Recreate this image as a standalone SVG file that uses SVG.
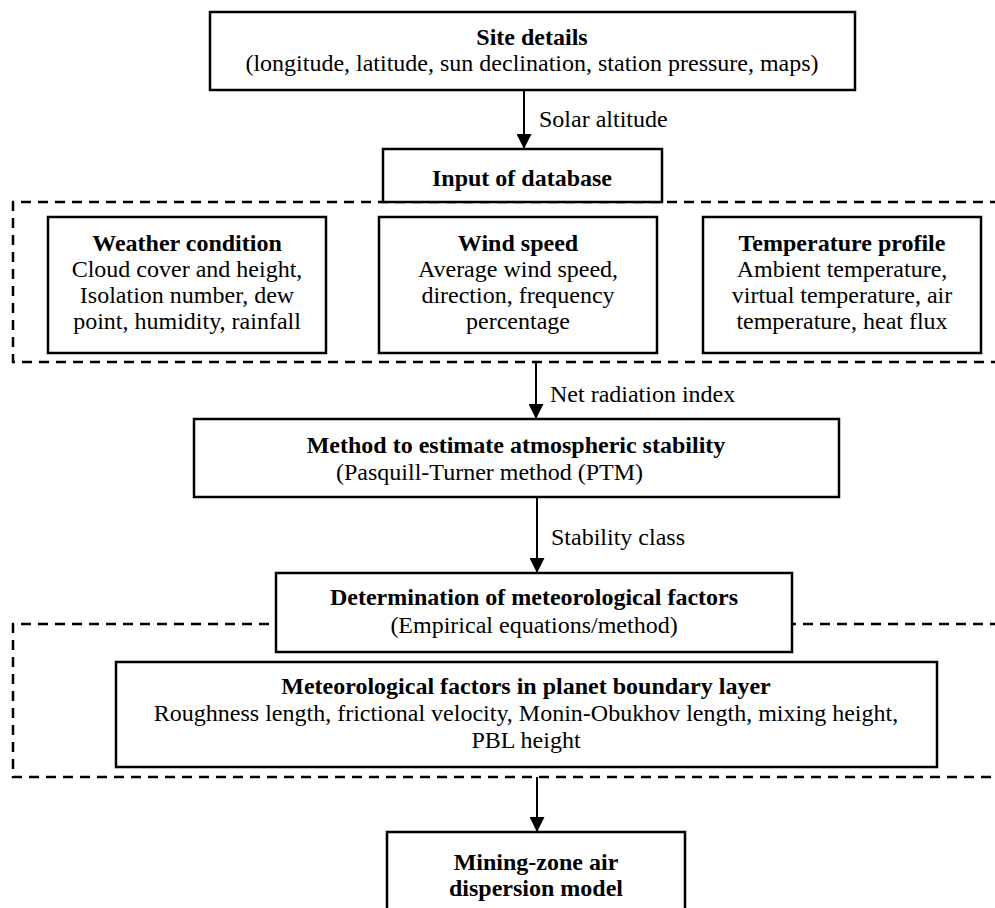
<svg xmlns="http://www.w3.org/2000/svg" width="995" height="908" viewBox="0 0 995 908">
  <style>
    .box { fill: #ffffff; stroke: #000000; stroke-width: 2.5; }
    .group { fill: none; stroke: #000000; stroke-width: 2.5; stroke-dasharray: 10 7; }
    .edge { fill: none; stroke: #000000; stroke-width: 2; }
    .t { font-weight: bold; text-anchor: middle; }
    .c { text-anchor: middle; }
  </style>
  <defs>
    <marker id="arrow" markerWidth="15" markerHeight="15" refX="15" refY="7.5" orient="auto" markerUnits="userSpaceOnUse">
      <path d="M0,0 L15,7.5 L0,15 Z" fill="#000000"/>
    </marker>
  </defs>

  <rect width="995" height="908" fill="#ffffff"/>

  <g font-family="'Liberation Serif', 'Times New Roman', Times, serif" font-size="24" fill="#000000">

  <!-- dashed grouping frames (open to the right edge) -->
  <g id="groups">
    <path class="group" d="M1000,202 H13 V362 H1000"/>
    <path class="group" d="M1000,624 H13 V777 H1000"/>
  </g>

  <!-- connectors -->
  <g id="connectors">
    <line class="edge" x1="524" y1="90" x2="524" y2="149" marker-end="url(#arrow)"/>
    <text x="539" y="127">Solar altitude</text>
    <line class="edge" x1="536" y1="362" x2="536" y2="419" marker-end="url(#arrow)"/>
    <text x="550" y="402">Net radiation index</text>
    <line class="edge" x1="537" y1="497" x2="537" y2="573" marker-end="url(#arrow)"/>
    <text x="551" y="545">Stability class</text>
    <line class="edge" x1="537" y1="777" x2="537" y2="832" marker-end="url(#arrow)"/>
  </g>

  <g id="site-details">
    <rect class="box" x="210" y="12" width="645" height="78"/>
    <text class="t" x="532" y="45">Site details</text>
    <text class="c" x="532" y="71">(longitude, latitude, sun declination, station pressure, maps)</text>
  </g>

  <g id="input-database">
    <rect class="box" x="383" y="149" width="279" height="53"/>
    <text class="t" x="522" y="186">Input of database</text>
  </g>

  <g id="weather-condition">
    <rect class="box" x="48" y="217" width="278" height="136"/>
    <text class="t" x="187" y="251">Weather condition</text>
    <text class="c" x="187" y="277">Cloud cover and height,</text>
    <text class="c" x="187" y="303">Isolation number, dew</text>
    <text class="c" x="187" y="329">point, humidity, rainfall</text>
  </g>

  <g id="wind-speed">
    <rect class="box" x="379" y="217" width="278" height="136"/>
    <text class="t" x="518" y="251">Wind speed</text>
    <text class="c" x="518" y="277">Average wind speed,</text>
    <text class="c" x="518" y="303">direction, frequency</text>
    <text class="c" x="518" y="329">percentage</text>
  </g>

  <g id="temperature-profile">
    <rect class="box" x="703" y="217" width="278" height="136"/>
    <text class="t" x="842" y="251">Temperature profile</text>
    <text class="c" x="842" y="277">Ambient temperature,</text>
    <text class="c" x="842" y="303">virtual temperature, air</text>
    <text class="c" x="842" y="329">temperature, heat flux</text>
  </g>

  <g id="stability-method">
    <rect class="box" x="194" y="419" width="645" height="78"/>
    <text class="t" x="516" y="453">Method to estimate atmospheric stability</text>
    <text x="336" y="480">(Pasquill-Turner method (PTM)</text>
  </g>

  <g id="meteorological-factors">
    <rect class="box" x="276" y="573" width="516" height="79"/>
    <text class="t" x="534" y="605">Determination of meteorological factors</text>
    <text class="c" x="534" y="633">(Empirical equations/method)</text>
  </g>

  <g id="planet-boundary-layer">
    <rect class="box" x="116" y="662" width="821" height="105"/>
    <text class="t" x="526" y="694">Meteorological factors in planet boundary layer</text>
    <text class="c" x="526" y="721">Roughness length, frictional velocity, Monin-Obukhov length, mixing height,</text>
    <text class="c" x="526" y="748">PBL height</text>
  </g>

  <g id="dispersion-model">
    <rect class="box" x="387" y="832" width="298" height="100"/>
    <text class="t" x="536" y="870">Mining-zone air</text>
    <text class="t" x="536" y="896">dispersion model</text>
  </g>

  </g>
</svg>
